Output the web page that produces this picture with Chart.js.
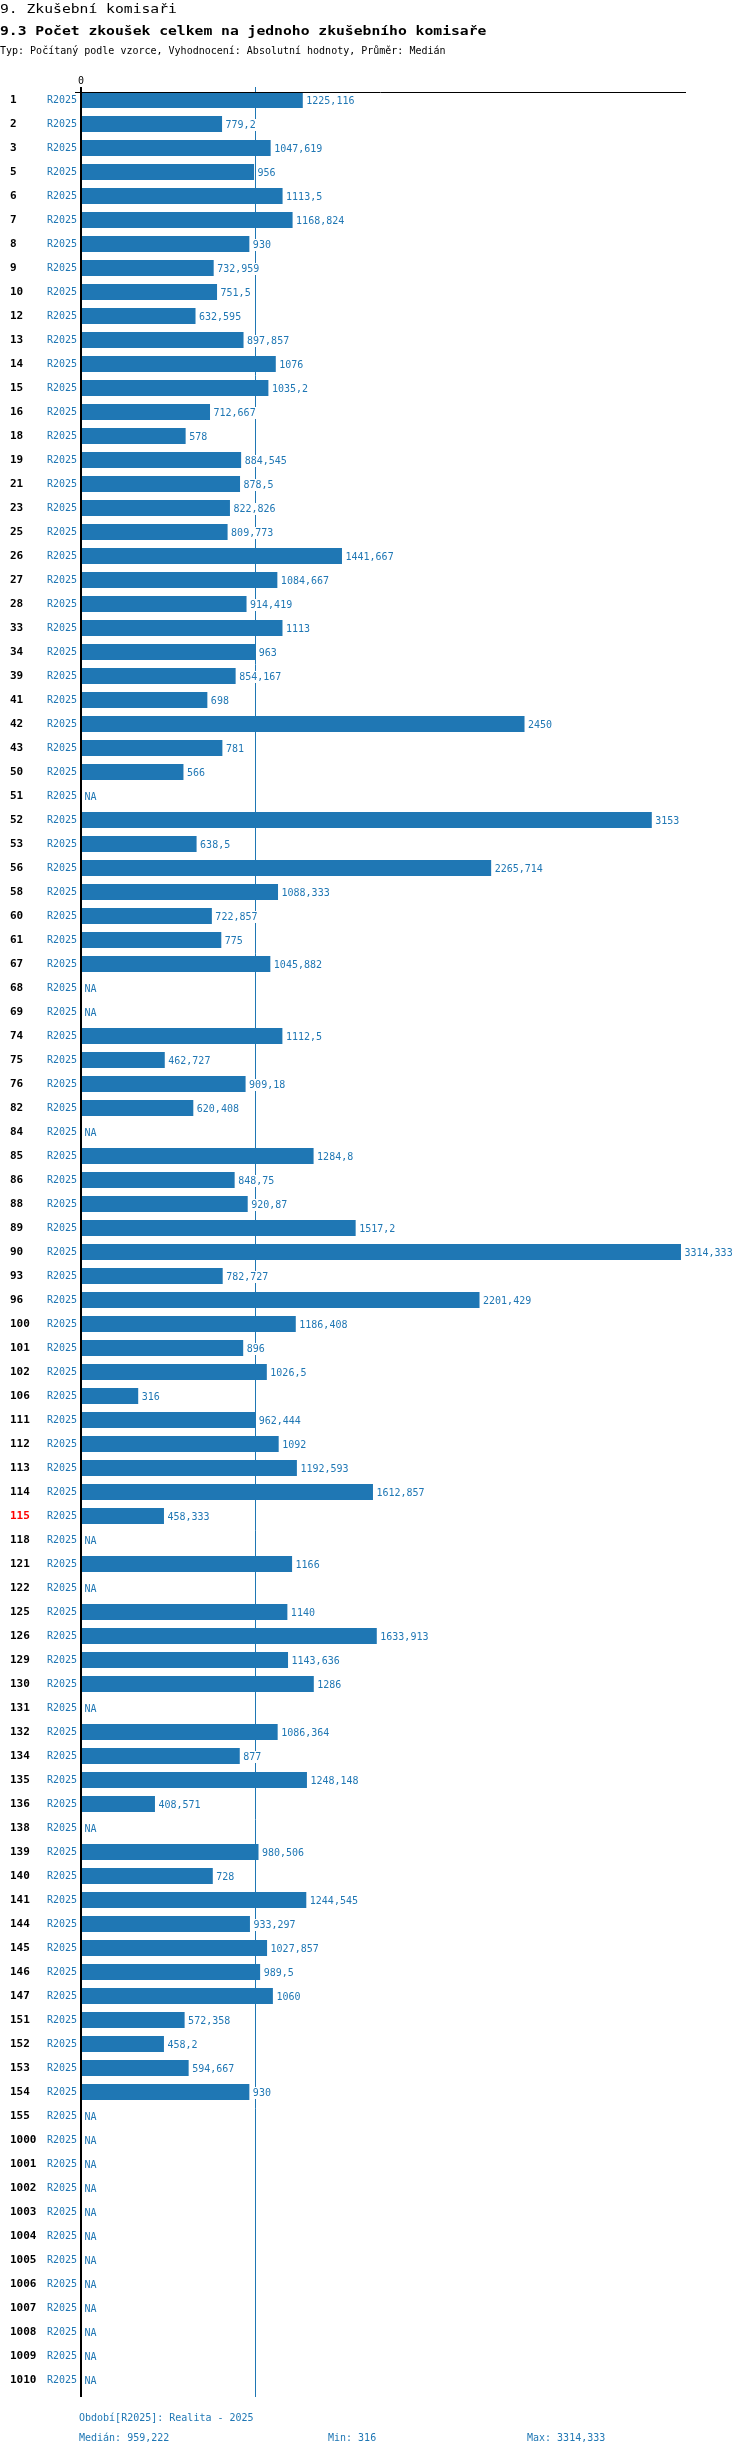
<!DOCTYPE html>
<html>
<head>
<meta charset="utf-8">
<title>9.3 Počet zkoušek celkem na jednoho zkušebního komisaře</title>
<script src="https://cdn.jsdelivr.net/npm/chart.js"></script>
<style>
    body {
        margin: 0;
        background: #fff;
        font-family: "DejaVu Sans Mono", monospace;
    }
    .page {
        position: relative;
        width: 750px;
        height: 2456px;
        overflow: hidden;
    }
    #chart {
        position: absolute;
        left: 0;
        top: 0;
    }
    .txt {
        position: absolute;
        white-space: pre;
        line-height: 1;
    }
    .title {
        font-size: 14.7px;
        color: #000;
        left: 0;
        transform: scaleY(0.85);
        transform-origin: 0 85%;
    }
    .sub { font-size: 10px; color: #000; left: 0; }
    .foot { font-size: 10px; color: #1f77b4; }
</style>
</head>
<body>
<div class="page">
    <canvas id="chart" width="750" height="2456"></canvas>
    <div class="txt title" style="top:1px">9. Zkušební komisaři</div>
    <div class="txt title" style="top:23px; font-weight:bold">9.3 Počet zkoušek celkem na jednoho zkušebního komisaře</div>
    <div class="txt sub" style="top:45.5px">Typ: Počítaný podle vzorce, Vyhodnocení: Absolutní hodnoty, Průměr: Medián</div>
    <div class="txt foot" id="period" style="left:79px; top:2413px"></div>
    <div class="txt foot" id="fMedian" style="left:79px; top:2433px"></div>
    <div class="txt foot" id="fMin" style="left:328px; top:2433px"></div>
    <div class="txt foot" id="fMax" style="left:527px; top:2433px"></div>
</div>

<script>
    // Data
    const categories = ['1', '2', '3', '5', '6', '7', '8', '9', '10', '12',
        '13', '14', '15', '16', '18', '19', '21', '23', '25', '26',
        '27', '28', '33', '34', '39', '41', '42', '43', '50', '51',
        '52', '53', '56', '58', '60', '61', '67', '68', '69', '74',
        '75', '76', '82', '84', '85', '86', '88', '89', '90', '93',
        '96', '100', '101', '102', '106', '111', '112', '113', '114', '115',
        '118', '121', '122', '125', '126', '129', '130', '131', '132', '134',
        '135', '136', '138', '139', '140', '141', '144', '145', '146', '147',
        '151', '152', '153', '154', '155', '1000', '1001', '1002', '1003', '1004',
        '1005', '1006', '1007', '1008', '1009', '1010'];

    const values = [1225.116, 779.2, 1047.619, 956, 1113.5, 1168.824, 930, 732.959, 751.5, 632.595,
        897.857, 1076, 1035.2, 712.667, 578, 884.545, 878.5, 822.826, 809.773, 1441.667,
        1084.667, 914.419, 1113, 963, 854.167, 698, 2450, 781, 566, null,
        3153, 638.5, 2265.714, 1088.333, 722.857, 775, 1045.882, null, null, 1112.5,
        462.727, 909.18, 620.408, null, 1284.8, 848.75, 920.87, 1517.2, 3314.333, 782.727,
        2201.429, 1186.408, 896, 1026.5, 316, 962.444, 1092, 1192.593, 1612.857, 458.333,
        null, 1166, null, 1140, 1633.913, 1143.636, 1286, null, 1086.364, 877,
        1248.148, 408.571, null, 980.506, 728, 1244.545, 933.297, 1027.857, 989.5, 1060,
        572.358, 458.2, 594.667, 930, null, null, null, null, null, null,
        null, null, null, null, null, null];

    const periodCode = 'R2025';
    const periodName = 'Realita - 2025';
    const highlighted = '115';
    const medianValue = 959.222;
    const minValue = 316;
    const maxValue = 3314.333;
    const axisMax = 3342;

    const BLUE = '#1f77b4';
    const FONT = '"DejaVu Sans Mono", monospace';

    function fmt(v) {
        return v === null ? 'NA' : String(v).replace('.', ',');
    }

    document.getElementById('period').textContent = 'Období[' + periodCode + ']: ' + periodName;
    document.getElementById('fMedian').textContent = 'Medián: ' + fmt(medianValue);
    document.getElementById('fMin').textContent = 'Min: ' + fmt(minValue);
    document.getElementById('fMax').textContent = 'Max: ' + fmt(maxValue);

    // median line behind bars, zero line + top axis + value labels on top
    const extras = {
        id: 'extras',
        beforeDatasetsDraw(chart) {
            const { ctx, chartArea, scales: { x } } = chart;
            const mx = Math.round(x.getPixelForValue(medianValue)) + 0.5;
            ctx.save();
            ctx.strokeStyle = BLUE;
            ctx.lineWidth = 1;
            ctx.beginPath();
            ctx.moveTo(mx, chartArea.top - 1);
            ctx.lineTo(mx, chartArea.bottom + 5);
            ctx.stroke();
            ctx.restore();
        },
        afterDatasetsDraw(chart) {
            const { ctx, chartArea, scales: { x } } = chart;
            const x0 = x.getPixelForValue(0);
            const meta = chart.getDatasetMeta(0);

            ctx.save();
            ctx.font = '10px ' + FONT;
            ctx.textBaseline = 'middle';
            ctx.textAlign = 'left';
            meta.data.forEach((bar, i) => {
                const v = values[i];
                const text = fmt(v);
                const tx = (v === null ? x0 : bar.x) + 3.5;
                const ty = bar.y + 1;
                const w = ctx.measureText(text).width;
                ctx.fillStyle = '#fff';
                ctx.fillRect(tx - 1, ty - 6, w + 2, 12);
                ctx.fillStyle = BLUE;
                ctx.fillText(text, tx, ty);
            });

            ctx.strokeStyle = '#000';
            ctx.lineWidth = 2;
            ctx.beginPath();
            ctx.moveTo(x0, chartArea.top - 1);
            ctx.lineTo(x0, chartArea.bottom + 5);
            ctx.stroke();

            ctx.lineWidth = 1;
            ctx.beginPath();
            ctx.moveTo(x0 - 6, chartArea.top + 4.5);
            ctx.lineTo(chartArea.right, chartArea.top + 4.5);
            ctx.stroke();
            ctx.restore();
        }
    };

    Chart.defaults.font.family = FONT;

    const chart = new Chart(document.getElementById('chart'), {
        type: 'bar',
        data: {
            labels: categories,
            datasets: [{
                data: values,
                backgroundColor: BLUE,
                borderWidth: 0,
                barPercentage: 16 / 24,
                categoryPercentage: 1
            }]
        },
        options: {
            indexAxis: 'y',
            responsive: false,
            animation: false,
            layout: {
                padding: { top: 70, left: 10, right: 64, bottom: 64 }
            },
            plugins: {
                legend: { display: false },
                tooltip: { enabled: false }
            },
            scales: {
                x: {
                    position: 'top',
                    min: 0,
                    max: axisMax,
                    grid: { display: false, drawTicks: false },
                    border: { display: false },
                    afterBuildTicks: (s) => { s.ticks = [{ value: 0 }]; },
                    afterFit: (s) => { s.height = 18; },
                    ticks: {
                        color: '#000',
                        font: { size: 10 },
                        padding: 1,
                        maxRotation: 0
                    }
                },
                y: {
                    position: 'left',
                    grid: { display: false, drawTicks: false },
                    border: { display: false },
                    afterFit: (s) => { s.width = 36; },
                    ticks: {
                        autoSkip: false,
                        padding: 4,
                        color: BLUE,
                        font: { size: 10 },
                        callback: () => periodCode
                    }
                },
                yNum: {
                    type: 'category',
                    labels: categories,
                    position: 'left',
                    weight: 1,
                    offset: true,
                    grid: { display: false, drawTicks: false },
                    border: { display: false },
                    afterFit: (s) => { s.width = 35; },
                    ticks: {
                        autoSkip: false,
                        crossAlign: 'far',
                        color: (c) => c.tick && c.tick.label === highlighted ? '#ff0000' : '#000',
                        font: { size: 11, weight: 'bold' }
                    }
                }
            }
        },
        plugins: [extras]
    });
</script>
</body>
</html>
